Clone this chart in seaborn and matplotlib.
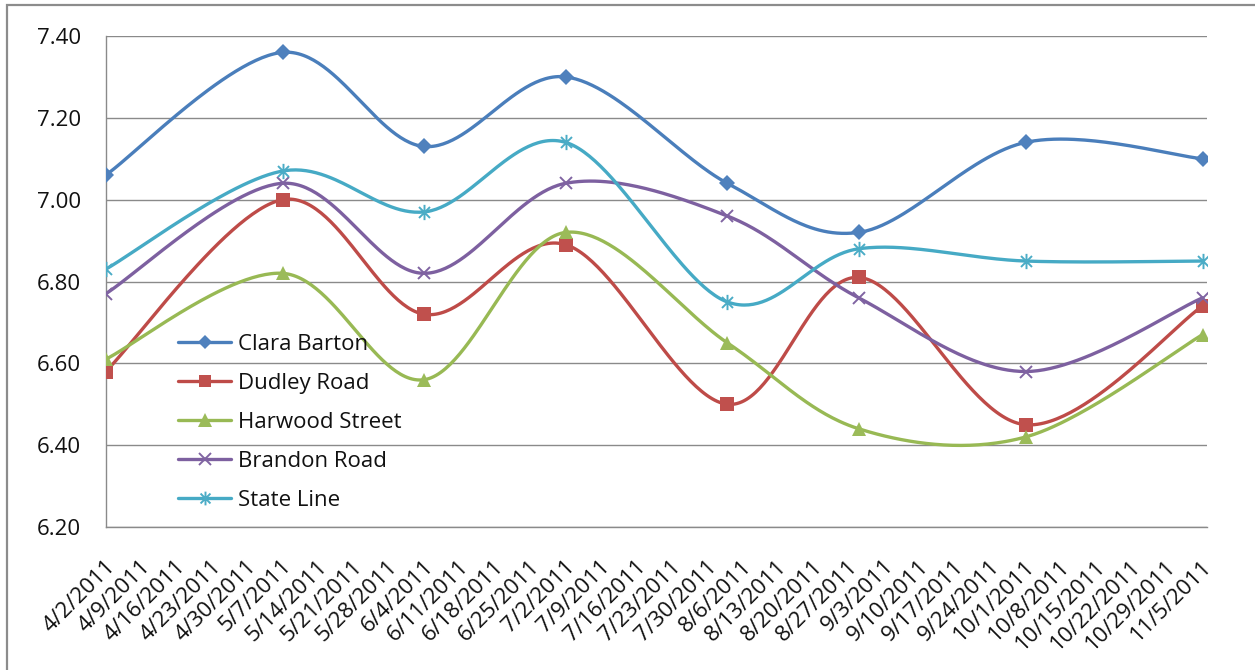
import numpy as np
import pandas as pd
import matplotlib
matplotlib.use("Agg")
import matplotlib.pyplot as plt
import matplotlib.transforms as mtrans
from matplotlib.path import Path
from matplotlib.lines import Line2D
from matplotlib.patches import Rectangle
import seaborn as sns

# ---- data -------------------------------------------------------------
sample_dates = ["2011-04-02", "2011-05-07", "2011-06-04", "2011-07-02",
                "2011-08-03", "2011-08-29", "2011-10-01", "2011-11-05"]

sites = ["Clara Barton", "Dudley Road", "Harwood Street", "Brandon Road", "State Line"]

clara_barton   = [7.06, 7.36, 7.13, 7.30, 7.04, 6.92, 7.14, 7.10]
dudley_road    = [6.58, 7.00, 6.72, 6.89, 6.50, 6.81, 6.45, 6.74]
harwood_street = [6.61, 6.82, 6.56, 6.92, 6.65, 6.44, 6.42, 6.67]
brandon_road   = [6.77, 7.04, 6.82, 7.04, 6.96, 6.76, 6.58, 6.76]
state_line     = [6.83, 7.07, 6.97, 7.14, 6.75, 6.88, 6.85, 6.85]

axis_start, axis_end = "2011-04-02", "2011-11-05"
y_ticks = [6.20, 6.40, 6.60, 6.80, 7.00, 7.20, 7.40]

# ---- styling ----------------------------------------------------------
line_colors   = ["#4A7EBB", "#BE4B48", "#98B954", "#7D60A0", "#46AAC5"]
marker_colors = ["#4F81BD", "#C0504D", "#9BBB59", "#8064A2", "#4BACC6"]

# asterisk: vertical bar plus an X
star_path = Path(
    [(0, -1), (0, 1), (-0.72, -0.72), (0.72, 0.72), (-0.72, 0.72), (0.72, -0.72)],
    [Path.MOVETO, Path.LINETO, Path.MOVETO, Path.LINETO, Path.MOVETO, Path.LINETO],
)
marker_styles = [
    dict(marker="D", markersize=8.0, mew=0),
    dict(marker="s", markersize=9.5, mew=0),
    dict(marker="^", markersize=10.5, mew=0),
    dict(marker="x", markersize=9.0, mew=1.4),
    dict(marker=star_path, markersize=11.0, mew=1.4),
]

sns.set_style("white")
plt.rcParams["font.family"] = ["Open Sans", "DejaVu Sans"]
FS = 16
TXT = "#111111"
GRID = "#8a8a8a"
LW = 2.4

W, H = 1255, 670
fig = plt.figure(figsize=(W / 100, H / 100), dpi=100)

# plot-area placement in pixels
left_px, right_px, top_px, bottom_px = 105.7, 1207, 36, 527
ax = fig.add_axes([left_px / W, 1 - bottom_px / H,
                   (right_px - left_px) / W, (bottom_px - top_px) / H])

t0 = pd.Timestamp(axis_start)
days = np.array([(pd.Timestamp(d) - t0).days for d in sample_dates], dtype=float)
span = (pd.Timestamp(axis_end) - t0).days


def smooth_curve(x, y, n=60):
    """Cubic Bezier smoothing through every point (Catmull-Rom style)."""
    P = np.column_stack([x, y])
    E = np.vstack([P[0], P, P[-1]])
    t = np.linspace(0, 1, n)[:, None]
    parts = []
    for i in range(len(P) - 1):
        p0, p1, p2, p3 = E[i], E[i + 1], E[i + 2], E[i + 3]
        c1 = p1 + (p2 - p0) / 6.0
        c2 = p2 - (p3 - p1) / 6.0
        seg = ((1 - t) ** 3) * p1 + 3 * ((1 - t) ** 2) * t * c1 \
            + 3 * (1 - t) * (t ** 2) * c2 + (t ** 3) * p2
        parts.append(seg if i == 0 else seg[1:])
    return np.vstack(parts)


series = [clara_barton, dudley_road, harwood_street, brandon_road, state_line]
handles = []
for k, (name, vals) in enumerate(zip(sites, series)):
    curve = smooth_curve(days, np.array(vals))
    sns.lineplot(x=curve[:, 0], y=curve[:, 1], ax=ax, sort=False, estimator=None,
                 color=line_colors[k], linewidth=LW, zorder=3 + k,
                 solid_capstyle="round", solid_joinstyle="round")
    ms = marker_styles[k]
    sns.lineplot(x=days, y=vals, ax=ax, sort=False, estimator=None,
                 linestyle="none", color=marker_colors[k],
                 marker=ms["marker"], markersize=ms["markersize"],
                 markeredgewidth=ms["mew"], markerfacecolor=marker_colors[k],
                 markeredgecolor=marker_colors[k], zorder=3.5 + k)
    handles.append(Line2D([], [], color=line_colors[k], linewidth=LW,
                          marker=ms["marker"], markersize=ms["markersize"] * 0.9,
                          markeredgewidth=ms["mew"],
                          markerfacecolor=marker_colors[k],
                          markeredgecolor=marker_colors[k], label=name))

# axes ranges
ax.set_xlim(0, span + (right_px - 1202.5) / ((1202.5 - left_px) / span))
ax.set_ylim(y_ticks[0], y_ticks[-1])

# weekly date ticks
week_dates = pd.date_range(axis_start, axis_end, freq="7D")
week_labels = [f"{d.month}/{d.day}/{d.year}" for d in week_dates]
ax.set_xticks([(d - t0).days for d in week_dates])
ax.set_xticklabels(week_labels, rotation=45, ha="right", va="center",
                   rotation_mode="anchor", fontsize=FS, color=TXT)
ax.set_yticks(y_ticks)
ax.set_yticklabels([f"{v:.2f}" for v in y_ticks], fontsize=FS, color=TXT)

ax.tick_params(axis="x", direction="out", length=6, width=1.0, color=GRID, pad=20)
ax.tick_params(axis="y", direction="out", length=6, width=1.0, color=GRID, pad=12)
off = mtrans.ScaledTranslation(6 / 100, 0, fig.dpi_scale_trans)
for lab in ax.get_xticklabels():
    lab.set_transform(lab.get_transform() + off)

ax.grid(axis="y", color=GRID, linewidth=1.0)
ax.grid(axis="x", visible=False)
ax.set_axisbelow(True)
for s in ["top", "right"]:
    ax.spines[s].set_visible(False)
for s in ["left", "bottom"]:
    ax.spines[s].set_color(GRID)
    ax.spines[s].set_linewidth(1.0)
ax.set_xlabel("")
ax.set_ylabel("")

leg = ax.legend(handles=handles, loc="upper left",
                bbox_to_anchor=(178 / W, 1 - 334 / H),
                bbox_transform=fig.transFigure, frameon=False, fontsize=FS,
                handlelength=2.4, handletextpad=0.28, labelspacing=0.81,
                borderpad=0, borderaxespad=0)
for t in leg.get_texts():
    t.set_color(TXT)

# chart-area border
fig.patches.append(Rectangle((7 / W, -0.2), 1.2, 1.2 - 5 / H,
                             transform=fig.transFigure, fill=False,
                             edgecolor="#8c8c8c", linewidth=1.6, zorder=10))

fig.savefig("out.png", dpi=100)
